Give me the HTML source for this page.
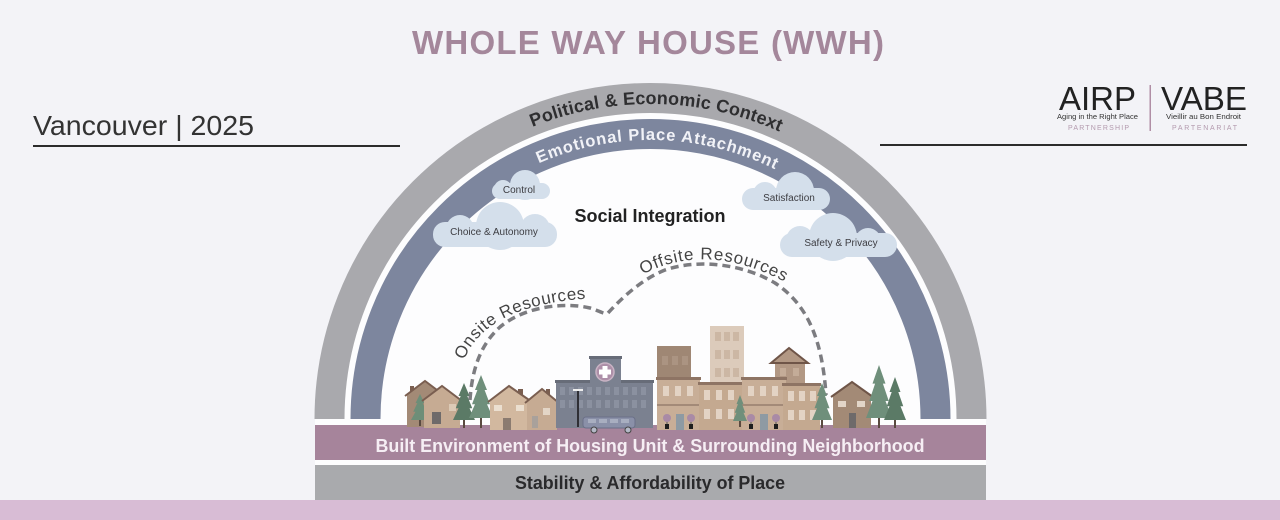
<!DOCTYPE html>
<html>
<head>
<meta charset="utf-8">
<style>
html,body{margin:0;padding:0;background:#f3f3f7;}
svg{display:block;}
text{font-family:"Liberation Sans",Arial,sans-serif;}
</style>
</head>
<body>
<svg width="1280" height="520" viewBox="0 0 1280 520" xmlns="http://www.w3.org/2000/svg">
<rect x="0" y="0" width="1280" height="520" fill="#f3f3f7"/>

<!-- Title -->
<text x="648" y="54" text-anchor="middle" font-size="33" font-weight="bold" fill="#a4879b" textLength="472" lengthAdjust="spacing">WHOLE WAY HOUSE (WWH)</text>

<!-- Vancouver -->
<text x="33" y="135" font-size="28" fill="#333" textLength="221" lengthAdjust="spacingAndGlyphs">Vancouver | 2025</text>
<rect x="33" y="145" width="367" height="2" fill="#2b2b2b"/>
<rect x="880" y="144" width="367" height="2" fill="#2b2b2b"/>

<!-- Logo -->
<text x="1059" y="110" font-size="33" fill="#222" textLength="77" lengthAdjust="spacingAndGlyphs">AIRP</text>
<text x="1161" y="110" font-size="33" fill="#222" textLength="86" lengthAdjust="spacingAndGlyphs">VABE</text>
<rect x="1149.5" y="85" width="1.5" height="46" fill="#b08ea5"/>
<text x="1057" y="119" font-size="7.5" fill="#333" textLength="81" lengthAdjust="spacingAndGlyphs">Aging in the Right Place</text>
<text x="1068" y="130" font-size="7" fill="#b39aae" textLength="61" lengthAdjust="spacing">PARTNERSHIP</text>
<text x="1166" y="119" font-size="7.5" fill="#333" textLength="75" lengthAdjust="spacingAndGlyphs">Vieillir au Bon Endroit</text>
<text x="1172" y="130" font-size="7" fill="#b39aae" textLength="65" lengthAdjust="spacing">PARTENARIAT</text>

<!-- Arch -->
<path d="M 314.5 419 A 336 336 0 0 1 986.5 419 Z" fill="#fdfdfe"/>
<rect x="315" y="419" width="671" height="47" fill="#fdfdfe"/>
<path d="M 329.5 419 A 321 321 0 0 1 971.5 419" fill="none" stroke="#a9a9ad" stroke-width="30"/>
<path d="M 365.5 419 A 285 285 0 0 1 935.5 419" fill="none" stroke="#7d869e" stroke-width="30"/>

<defs>
<path id="arcPol" d="M 335.5 419 A 315 315 0 0 1 965.5 419"/>
<path id="arcEmo" d="M 371.5 419 A 279 279 0 0 1 929.5 419"/>
<path id="onsite" d="M 462 366 Q 482 302 600 298"/>
<path id="offsite" d="M 640 276 Q 705 240 785 282"/>
</defs>
<text font-size="18" font-weight="bold" fill="#2e2e30"><textPath href="#arcPol" startOffset="50.6%" text-anchor="middle" textLength="254" lengthAdjust="spacing">Political &amp; Economic Context</textPath></text>
<text font-size="16.5" font-weight="bold" fill="#f1f2f7"><textPath href="#arcEmo" startOffset="50.8%" text-anchor="middle" textLength="244" lengthAdjust="spacing">Emotional Place Attachment</textPath></text>

<!-- Clouds -->
<g fill="#d4dfeb">
  <rect x="492" y="183" width="58" height="16" rx="8"/>
  <circle cx="525" cy="185" r="15"/>
  <circle cx="503" cy="189" r="9"/>
  <rect x="433" y="222" width="124" height="25" rx="12"/>
  <circle cx="500" cy="226" r="24"/>
  <circle cx="460" cy="229" r="14"/>
  <circle cx="535" cy="229" r="15"/>
  <rect x="742" y="188" width="88" height="22" rx="11"/>
  <circle cx="795" cy="191" r="19"/>
  <circle cx="765" cy="194" r="12"/>
  <rect x="780" y="233" width="117" height="24" rx="12"/>
  <circle cx="833" cy="237" r="24"/>
  <circle cx="800" cy="240" r="14"/>
  <circle cx="868" cy="241" r="13"/>
</g>
<g font-size="10" fill="#3d3d42" text-anchor="middle">
  <text x="519" y="193">Control</text>
  <text x="494" y="235">Choice &amp; Autonomy</text>
  <text x="789" y="201">Satisfaction</text>
  <text x="841" y="246">Safety &amp; Privacy</text>
</g>

<text x="650" y="222" text-anchor="middle" font-size="18" font-weight="bold" fill="#222">Social Integration</text>

<!-- dashed resources path -->
<path d="M 470 400 C 472 370, 480 345, 500 327 C 525 306, 565 302, 590 308 C 600 311, 605 315, 608 313 C 620 300, 640 280, 665 270 C 700 258, 745 265, 775 283 C 805 303, 822 335, 826 395" fill="none" stroke="#7c7c80" stroke-width="3.5" stroke-dasharray="8 5"/>
<text font-size="17" fill="#444"><textPath href="#onsite" startOffset="6" textLength="144" lengthAdjust="spacing">Onsite Resources</textPath></text>
<text font-size="17" fill="#444"><textPath href="#offsite" startOffset="3" textLength="148" lengthAdjust="spacing">Offsite Resources</textPath></text>

<!-- Bands -->
<rect x="315" y="425" width="671" height="35" fill="#a6849b"/>
<rect x="315" y="465" width="671" height="35" fill="#a9aaad"/>
<rect x="0" y="500" width="1280" height="20" fill="#d8bcd5"/>
<text x="650" y="452" text-anchor="middle" font-size="18" font-weight="bold" fill="#f6eef4" textLength="549" lengthAdjust="spacingAndGlyphs">Built Environment of Housing Unit &amp; Surrounding Neighborhood</text>
<text x="650" y="489" text-anchor="middle" font-size="18" font-weight="bold" fill="#2a2a2c" textLength="270" lengthAdjust="spacingAndGlyphs">Stability &amp; Affordability of Place</text>

<!-- Skyline left -->
<rect x="410" y="386" width="4" height="9" fill="#7a5e50"/>
<polygon points="407,427 407,395 425,382 443,395 443,427" fill="#a38a76"/>
<polyline points="405,396 425,381 445,396" fill="none" stroke="#7a5e50" stroke-width="2"/>
<polygon points="420,394 415.5,403.1 417.3,403.1 413.25,411.7 415.5,411.7 411,420 429,420 424.5,411.7 426.75,411.7 422.7,403.1 424.5,403.1" fill="#6d8e78"/>
<rect x="419" y="420" width="2" height="6" fill="#5a4a40"/>
<polygon points="424,428 424,400 442,387 460,400 460,428" fill="#c6ab93"/>
<polyline points="422,401 442,386 462,401" fill="none" stroke="#7a5e50" stroke-width="2"/>
<rect x="432" y="412" width="9" height="12" fill="#6e6a6a"/>
<rect x="449" y="404" width="7" height="7" fill="#dccab6"/>
<polygon points="464,383 458.5,396 460.7,396 455.75,408.2 458.5,408.2 453,420 475,420 469.5,408.2 472.25,408.2 467.3,396 469.5,396" fill="#5b7a66"/>
<rect x="463" y="420" width="2" height="8" fill="#5a4a40"/>
<polygon points="481,375 475,390 477.4,390 472,404.2 475,404.2 469,418 493,418 487,404.2 490,404.2 484.6,390 487,390" fill="#6f8f7b"/>
<rect x="480" y="418" width="2" height="10" fill="#5a4a40"/>
<rect x="518" y="389" width="5" height="10" fill="#7a5e50"/>
<polygon points="490,430 490,401 509,387 530,401 530,430" fill="#d2b89f"/>
<polyline points="488,402 509,386 532,402" fill="none" stroke="#7a5e50" stroke-width="2"/>
<rect x="503" y="418" width="8" height="12" fill="#8b7b70"/>
<rect x="494" y="405" width="8" height="6" fill="#ebdfd0"/>
<rect x="516" y="405" width="8" height="6" fill="#ebdfd0"/>
<rect x="546" y="389" width="4" height="9" fill="#7a5e50"/>
<polygon points="527,430 527,402 542,390 557,402 557,430" fill="#c6ab93"/>
<polyline points="525,403 542,389 559,403" fill="none" stroke="#7a5e50" stroke-width="2"/>
<rect x="543" y="408" width="7" height="7" fill="#e3d5c6"/>
<rect x="532" y="416" width="6" height="12" fill="#a9a19b"/>

<!-- Hospital -->
<rect x="556" y="382" width="97" height="46" fill="#7b8190"/>
<rect x="555" y="380" width="99" height="3" fill="#676c78"/>
<rect x="590" y="358" width="31" height="25" fill="#7b8190"/>
<rect x="589" y="356" width="33" height="3" fill="#676c78"/>
<g fill="#8b91a0">
  <rect x="560" y="387" width="5" height="8"/><rect x="569" y="387" width="5" height="8"/><rect x="578" y="387" width="5" height="8"/><rect x="587" y="387" width="5" height="8"/><rect x="596" y="387" width="5" height="8"/><rect x="605" y="387" width="5" height="8"/><rect x="614" y="387" width="5" height="8"/><rect x="623" y="387" width="5" height="8"/><rect x="632" y="387" width="5" height="8"/><rect x="641" y="387" width="5" height="8"/>
  <rect x="560" y="400" width="5" height="8"/><rect x="569" y="400" width="5" height="8"/><rect x="578" y="400" width="5" height="8"/><rect x="587" y="400" width="5" height="8"/><rect x="596" y="400" width="5" height="8"/><rect x="605" y="400" width="5" height="8"/><rect x="614" y="400" width="5" height="8"/><rect x="623" y="400" width="5" height="8"/><rect x="632" y="400" width="5" height="8"/><rect x="641" y="400" width="5" height="8"/>
</g>
<circle cx="605" cy="372" r="9" fill="#ad8fa8" stroke="#c8b3c4" stroke-width="1.5"/>
<rect x="602.5" y="366" width="5" height="12" fill="#fff"/>
<rect x="599" y="369.5" width="12" height="5" fill="#fff"/>
<rect x="577" y="391" width="2" height="36" fill="#2f2f35"/>
<rect x="573" y="389" width="10" height="2" fill="#eee"/>
<rect x="583" y="417" width="52" height="11" rx="3" fill="#8a90a8" stroke="#6b7088" stroke-width="1"/>
<g fill="#a8aec0"><rect x="588" y="419" width="8" height="4"/><rect x="599" y="419" width="8" height="4"/><rect x="610" y="419" width="8" height="4"/><rect x="621" y="419" width="8" height="4"/></g>
<circle cx="594" cy="430" r="3" fill="#b4b9c7" stroke="#444" stroke-width="1"/>
<circle cx="628" cy="430" r="3" fill="#b4b9c7" stroke="#444" stroke-width="1"/>

<!-- Right buildings -->
<rect x="657" y="346" width="34" height="35" fill="#9f8774"/>
<g fill="#ab9482"><rect x="662" y="356" width="6" height="9"/><rect x="672" y="356" width="6" height="9"/><rect x="682" y="356" width="6" height="9"/></g>
<rect x="710" y="326" width="34" height="60" fill="#dccbbb"/>
<g fill="#ccb7a4">
<rect x="715" y="332" width="6" height="9"/><rect x="724" y="332" width="6" height="9"/><rect x="733" y="332" width="6" height="9"/>
<rect x="715" y="350" width="6" height="9"/><rect x="724" y="350" width="6" height="9"/><rect x="733" y="350" width="6" height="9"/>
<rect x="715" y="368" width="6" height="9"/><rect x="724" y="368" width="6" height="9"/><rect x="733" y="368" width="6" height="9"/>
</g>
<rect x="657" y="378" width="43" height="52" fill="#c8ae97"/>
<rect x="656" y="377" width="45" height="3" fill="#8e7464"/>
<rect x="657" y="404" width="43" height="2" fill="#a38a78"/>
<g fill="#e3d3c4"><rect x="663" y="386" width="6" height="10"/><rect x="675" y="386" width="6" height="10"/><rect x="687" y="386" width="6" height="10"/></g>
<rect x="676" y="414" width="8" height="16" fill="#8e9aa3"/>
<rect x="699" y="383" width="43" height="47" fill="#c4a990"/>
<rect x="698" y="382" width="45" height="3" fill="#8e7464"/>
<g fill="#e3d3c4"><rect x="704" y="390" width="6" height="10"/><rect x="716" y="390" width="6" height="10"/><rect x="728" y="390" width="6" height="10"/>
<rect x="704" y="409" width="6" height="10"/><rect x="716" y="409" width="6" height="10"/><rect x="728" y="409" width="6" height="10"/></g>
<rect x="775" y="362" width="30" height="22" fill="#b29884"/>
<polygon points="771,363 789,348 808,363" fill="#b29884" stroke="#6f5548" stroke-width="2"/>
<g fill="#c4ac98"><rect x="780" y="368" width="6" height="8"/><rect x="793" y="368" width="6" height="8"/></g>
<rect x="742" y="378" width="44" height="52" fill="#c8ae97"/>
<rect x="741" y="377" width="46" height="3" fill="#8e7464"/>
<rect x="742" y="404" width="44" height="2" fill="#a38a78"/>
<g fill="#e3d3c4"><rect x="748" y="386" width="6" height="10"/><rect x="760" y="386" width="6" height="10"/><rect x="772" y="386" width="6" height="10"/></g>
<rect x="760" y="414" width="8" height="16" fill="#8e9aa3"/>
<rect x="783" y="384" width="37" height="46" fill="#c4a990"/>
<rect x="782" y="383" width="39" height="3" fill="#8e7464"/>
<g fill="#e3d3c4"><rect x="788" y="391" width="6" height="10"/><rect x="799" y="391" width="6" height="10"/><rect x="810" y="391" width="6" height="10"/>
<rect x="788" y="410" width="6" height="10"/><rect x="799" y="410" width="6" height="10"/><rect x="810" y="410" width="6" height="10"/></g>
<polygon points="740,395 736.5,404.1 737.9,404.1 734.75,412.7 736.5,412.7 733,421 747,421 743.5,412.7 745.25,412.7 742.1,404.1 743.5,404.1" fill="#6f8f7b"/>
<rect x="739" y="421" width="2" height="6" fill="#5a4a40"/>
<g>
<rect x="666.5" y="419" width="1" height="6" fill="#555"/><circle cx="667" cy="418" r="4" fill="#a98aa6"/><rect x="665" y="424" width="4" height="5" fill="#1e1e1e"/>
<rect x="690.5" y="419" width="1" height="6" fill="#555"/><circle cx="691" cy="418" r="4" fill="#a98aa6"/><rect x="689" y="424" width="4" height="5" fill="#1e1e1e"/>
<rect x="750.5" y="419" width="1" height="6" fill="#555"/><circle cx="751" cy="418" r="4" fill="#a98aa6"/><rect x="749" y="424" width="4" height="5" fill="#1e1e1e"/>
<rect x="775.5" y="419" width="1" height="6" fill="#555"/><circle cx="776" cy="418" r="4" fill="#a98aa6"/><rect x="774" y="424" width="4" height="5" fill="#1e1e1e"/>
</g>
<polygon points="822,383 817,396 819,396 814.5,408.2 817,408.2 812,420 832,420 827,408.2 829.5,408.2 825,396 827,396" fill="#6f8f7b"/>
<rect x="821" y="420" width="2" height="8" fill="#5a4a40"/>
<polygon points="833,428 833,396 852,383 871,396 871,428" fill="#a38a76"/>
<polyline points="831,397 852,382 873,397" fill="none" stroke="#6f5548" stroke-width="2"/>
<rect x="838" y="401" width="8" height="6" fill="#e2d5c8"/>
<rect x="857" y="401" width="8" height="6" fill="#e2d5c8"/>
<rect x="849" y="413" width="7" height="15" fill="#6e6a6a"/>
<polygon points="879,365 872.5,383.6 875.1,383.6 869.25,401 872.5,401 866,418 892,418 885.5,401 888.75,401 882.9,383.6 885.5,383.6" fill="#6f8f7b"/>
<rect x="878" y="418" width="2" height="10" fill="#5a4a40"/>
<polygon points="895,377 889.5,392 891.7,392 886.75,406.2 889.5,406.2 884,420 906,420 900.5,406.2 903.25,406.2 898.3,392 900.5,392" fill="#5b7a66"/>
<rect x="894" y="420" width="2" height="8" fill="#5a4a40"/>
</svg>
</body>
</html>
